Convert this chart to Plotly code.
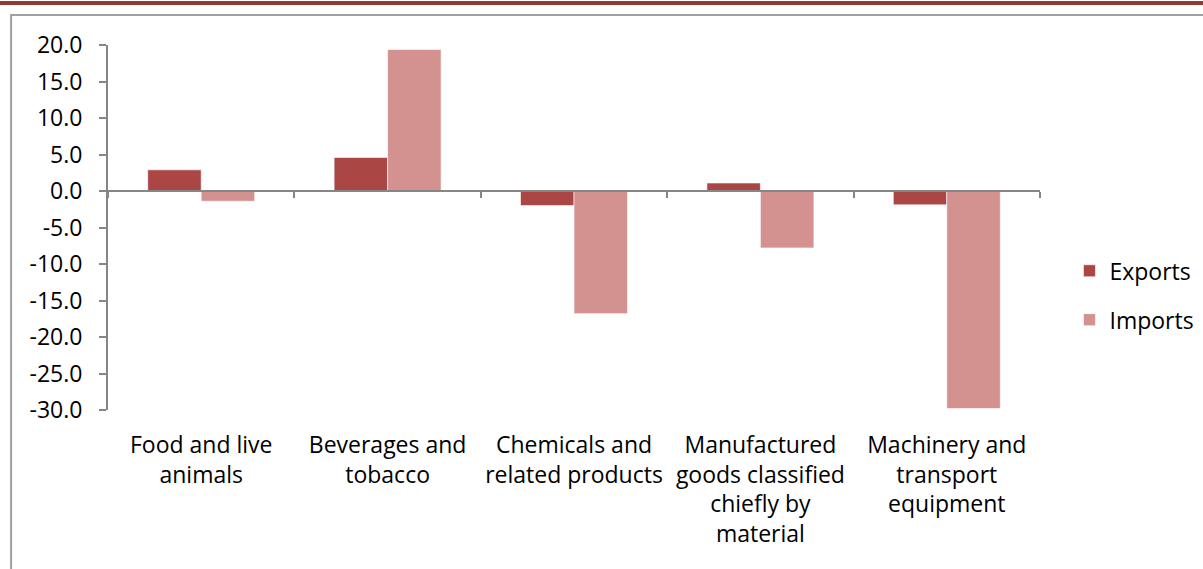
import plotly.graph_objects as go

# Data (percent change)
categories = [
    "Food and live<br>animals",
    "Beverages and<br>tobacco",
    "Chemicals and<br>related products",
    "Manufactured<br>goods classified<br>chiefly by<br>material",
    "Machinery and<br>transport<br>equipment",
]
exports = [2.9, 4.6, -2.0, 1.1, -1.9]
imports = [-1.4, 19.4, -16.8, -7.8, -29.8]

y_ticks = [20, 15, 10, 5, 0, -5, -10, -15, -20, -25, -30]

EXPORT_COLOR = "#AA4644"
IMPORT_COLOR = "#D3918F"
AXIS_COLOR = "#868686"
FONT = dict(family="Open Sans, sans-serif", size=23, color="#000000")

fig = go.Figure()
fig.add_trace(go.Bar(
    name="Exports", x=categories, y=exports,
    marker_color=EXPORT_COLOR,
    marker_line=dict(color="rgba(255,255,255,0.6)", width=1),
    legendgroup="e",
))
fig.add_trace(go.Bar(
    name="Imports", x=categories, y=imports,
    marker_color=IMPORT_COLOR,
    marker_line=dict(color="rgba(255,255,255,0.6)", width=1),
    legendgroup="i",
))

fig.update_layout(
    width=1203, height=569,
    paper_bgcolor="white", plot_bgcolor="white",
    font=FONT,
    barmode="group", bargap=0.426, bargroupgap=0,
    margin=dict(l=108, r=163, t=45, b=159, autoexpand=False),
    showlegend=True,
    legend=dict(
        xref="container", yref="container",
        x=0.889, y=0.481, xanchor="left", yanchor="middle",
        font=FONT, tracegroupgap=16, itemwidth=30,
    ),
)

# category axis crosses at zero, labels pushed down to the bottom
fig.update_xaxes(
    anchor="free", position=0.6,
    showline=True, linecolor=AXIS_COLOR, linewidth=2,
    ticks="outside", ticklen=6, tickwidth=2, tickcolor=AXIS_COLOR,
    tickson="boundaries", showgrid=False, zeroline=False,
    ticklabelstandoff=233, tickangle=0, automargin=False,
)
fig.update_yaxes(
    range=[-30, 20], tickvals=y_ticks,
    ticktext=[f"{v:.1f}" for v in y_ticks],
    showline=True, linecolor=AXIS_COLOR, linewidth=2,
    ticks="outside", ticklen=7, tickwidth=2, tickcolor=AXIS_COLOR,
    showgrid=False, zeroline=False, ticklabelstandoff=12, automargin=False,
)

# frame around the chart and the dark red rule at the top
fig.add_shape(type="rect", xref="paper", yref="paper",
              x0=-0.104, x1=1.3, y0=-0.6, y1=1.082,
              line=dict(color="#A0A0A0", width=2), layer="below")
fig.add_shape(type="line", xref="paper", yref="paper",
              x0=-0.2, x1=1.3, y0=1.115, y1=1.115,
              line=dict(color="#953735", width=4))

# drop the default page margin so the figure sits at the window corner
fig.write_html("out.html", post_script="document.body.style.margin='0';",
               config={"displayModeBar": False})
